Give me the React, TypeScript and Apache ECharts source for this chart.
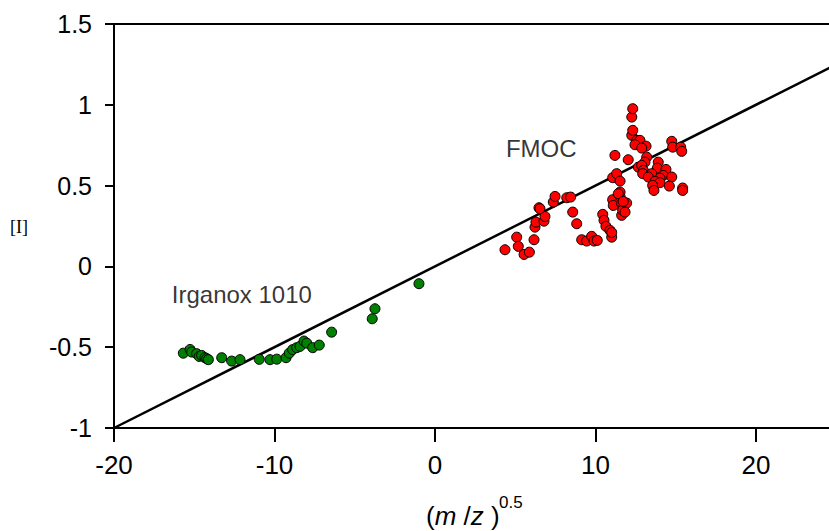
import React, { useEffect, useRef } from "react";
import * as echarts from "echarts";

const xTickValues = [-20, -10, 0, 10, 20];
const yTickValues = [-1, -0.5, 0, 0.5, 1, 1.5];

const irganoxMz = [
  -15.68, -15.26, -15.16, -14.85, -14.69, -14.54, -14.33, -14.22, -14.12, -13.29,
  -12.67, -12.15, -10.95, -10.28, -9.86, -9.28, -9.08, -8.87, -8.62, -8.41,
  -8.16, -7.99, -7.62, -7.21, -6.44, -3.74, -3.91, -1.0,
];
const irganoxXi = [
  -0.537, -0.514, -0.53, -0.54, -0.557, -0.551, -0.565, -0.571, -0.577, -0.565,
  -0.586, -0.577, -0.575, -0.577, -0.574, -0.565, -0.537, -0.515, -0.503, -0.495,
  -0.462, -0.475, -0.503, -0.487, -0.407, -0.262, -0.324, -0.107,
];

const fmocMz = [
  4.36, 5.09, 5.19, 5.55, 5.88, 6.17, 6.23, 6.29, 6.79, 6.85,
  6.48, 6.54, 7.37, 7.48, 8.21, 8.45, 8.58, 8.83, 9.14, 9.45,
  9.76, 9.91, 10.11, 10.45, 10.53, 10.65, 10.9, 11.01, 11.01, 11.07,
  11.11, 11.53, 11.63, 11.73, 11.94, 11.63, 11.69, 11.84, 11.07, 11.32,
  11.53, 11.21, 12.04, 12.26, 12.32, 12.26, 12.32, 12.57, 12.67, 12.77,
  12.46, 13.15, 12.88, 13.19, 13.08, 12.88, 12.98, 12.94, 13.91, 13.85,
  13.5, 13.29, 14.39, 14.22, 14.02, 14.75, 13.71, 14.02, 13.56, 13.64,
  14.6, 15.43, 15.43, 14.75, 14.81, 15.31, 15.37, 11.53, 11.42, 11.73,
];
const fmocXi = [
  0.103, 0.181, 0.124, 0.074, 0.088, 0.165, 0.243, 0.274, 0.28, 0.309,
  0.363, 0.357, 0.398, 0.433, 0.425, 0.429, 0.336, 0.264, 0.165, 0.157,
  0.186, 0.157, 0.161, 0.322, 0.285, 0.248, 0.223, 0.181, 0.21, 0.413,
  0.377, 0.433, 0.388, 0.363, 0.392, 0.316, 0.347, 0.336, 0.549, 0.574,
  0.528, 0.687, 0.66, 0.811, 0.842, 0.924, 0.976, 0.78, 0.614, 0.78,
  0.753, 0.744, 0.732, 0.676, 0.645, 0.625, 0.594, 0.574, 0.645, 0.608,
  0.574, 0.553, 0.6, 0.563, 0.546, 0.553, 0.526, 0.518, 0.501, 0.47,
  0.497, 0.485, 0.47, 0.774, 0.738, 0.738, 0.712, 0.46, 0.45, 0.402,
];

const fitLineMz = [-20, 30];
const fitLineXi = [-1, 1.5];

const annotationLabels = ["Irganox 1010", "FMOC"];
const annotationMz = [-16.4, 4.42];
const annotationXi = [-0.176, 0.728];

const yAxisTitle = "[I]";
const xAxisTitleParts = ["(", "m", " /", "z", " )"];
const xAxisTitleSup = "0.5";

const FONT = "Liberation Sans";

export default function App() {
  const ref = useRef<HTMLDivElement>(null);
  useEffect(() => {
    const chart = echarts.init(ref.current!, null, { renderer: "svg" });
    const axisCommon = {
      type: "value",
      splitLine: { show: false },
      axisLine: { show: true, onZero: false, lineStyle: { color: "#000", width: 2 } },
      axisTick: { show: true, inside: false, length: 9, lineStyle: { color: "#000", width: 2 } },
      axisLabel: { color: "#000", fontSize: 25, fontFamily: FONT },
    };
    chart.setOption({
      animation: false,
      backgroundColor: "#fff",
      grid: {
        left: 114,
        top: 24,
        width: 802.5,
        height: 404,
        containLabel: false,
        outerBoundsMode: "none",
      },
      xAxis: [
        {
          ...axisCommon,
          min: xTickValues[0],
          max: 30,
          interval: 10,
          position: "bottom",
          axisTick: { ...axisCommon.axisTick, length: 14 },
          axisLabel: { ...axisCommon.axisLabel, margin: 24, fontSize: 26, showMaxLabel: false },
        },
        {
          type: "value",
          min: xTickValues[0],
          max: 30,
          interval: 10,
          position: "top",
          splitLine: { show: false },
          axisLine: { show: true, onZero: false, lineStyle: { color: "#000", width: 2 } },
          axisTick: { show: false },
          axisLabel: { show: false },
        },
      ],
      yAxis: {
        ...axisCommon,
        min: yTickValues[0],
        max: yTickValues[yTickValues.length - 1],
        interval: 0.5,
        axisLabel: { ...axisCommon.axisLabel, margin: 22 },
      },
      graphic: [
        {
          type: "text",
          x: 19,
          y: 227,
          style: {
            text: yAxisTitle,
            fontSize: 18,
            fontFamily: "Liberation Serif",
            fill: "#000",
            align: "center",
            verticalAlign: "middle",
          },
        },
        {
          type: "text",
          x: 426,
          y: 503,
          style: {
            text:
              "{n|" + xAxisTitleParts[0] + "}{i|" + xAxisTitleParts[1] + "}{n|" + xAxisTitleParts[2] +
              "}{i|" + xAxisTitleParts[3] + "}{n|" + xAxisTitleParts[4] + "}",
            fill: "#000",
            fontSize: 26,
            fontFamily: FONT,
            align: "left",
            verticalAlign: "top",
            rich: {
              n: { fontSize: 26, fontFamily: FONT, fill: "#000" },
              i: { fontSize: 26, fontFamily: FONT, fontStyle: "italic", fill: "#000" },
            },
          },
        },
        {
          type: "text",
          x: 499,
          y: 494,
          style: {
            text: xAxisTitleSup,
            fill: "#000",
            fontSize: 17,
            fontFamily: FONT,
            align: "left",
            verticalAlign: "top",
          },
        },
      ],
      series: [
        {
          type: "line",
          xAxisIndex: 0,
          data: fitLineMz.map((x, i) => [x, fitLineXi[i]]),
          symbol: "none",
          lineStyle: { color: "#000", width: 2.5 },
          z: 1,
          silent: true,
        },
        {
          type: "scatter",
          xAxisIndex: 0,
          name: "Irganox 1010",
          data: irganoxMz.map((x, i) => [x, irganoxXi[i]]),
          symbol: "circle",
          symbolSize: 10,
          itemStyle: { color: "#008000", borderColor: "#000", borderWidth: 1, opacity: 1 },
          z: 3,
        },
        {
          type: "scatter",
          xAxisIndex: 0,
          name: "FMOC",
          data: fmocMz.map((x, i) => [x, fmocXi[i]]),
          symbol: "circle",
          symbolSize: 10,
          itemStyle: { color: "#ff0000", borderColor: "#000", borderWidth: 1, opacity: 1 },
          z: 3,
        },
        {
          type: "scatter",
          xAxisIndex: 0,
          data: annotationLabels.map((name, i) => ({ name, value: [annotationMz[i], annotationXi[i]] })),
          symbolSize: 0,
          silent: true,
          label: {
            show: true,
            position: "right",
            distance: 0,
            formatter: "{b}",
            color: "#000",
            fontSize: 24,
            fontFamily: FONT,
          },
          z: 4,
        },
      ],
    });
    return () => chart.dispose();
  }, []);
  return (
    <div
      ref={ref}
      style={{ position: "absolute", left: 0, top: 0, width: 829, height: 531 }}
    />
  );
}
